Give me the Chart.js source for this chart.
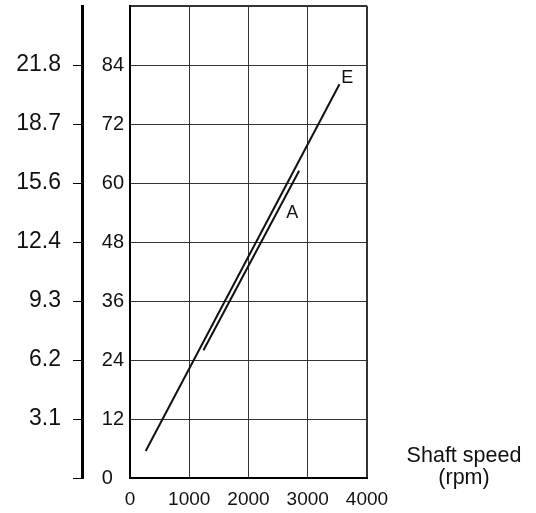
<!DOCTYPE html>
<html lang="en">
<head>
  <meta charset="UTF-8" />
  <title>Power vs shaft speed</title>
  <script src="https://cdn.jsdelivr.net/npm/chart.js"></script>
  <style>
    html, body { margin: 0; padding: 0; background: #fff; }
  </style>
</head>
<body>
  <canvas id="powerChart" width="536" height="513"></canvas>

  <script>
    // values
    const speedTicks = [0, 1000, 2000, 3000, 4000];
    const powerTicks = [0, 12, 24, 36, 48, 60, 72, 84, 96];
    const outerLabels = ['', '3.1', '6.2', '9.3', '12.4', '15.6', '18.7', '21.8', ''];
    const speedE = [265, 3535];
    const powerE = [5.5, 80.1];
    const speedA = [1240, 2855];
    const powerA = [26, 62.5];

    const ink = '#111';
    Chart.defaults.font.family = '"Liberation Sans", Arial, sans-serif';
    Chart.defaults.color = ink;

    function toPoints(xs, ys) {
      return xs.map((x, i) => ({ x: x, y: ys[i] }));
    }

    function setTicks(list) {
      return scale => { scale.ticks = list.map(v => ({ value: v })); };
    }

    // curve names and the axis caption
    const annotate = {
      id: 'annotate',
      afterDraw(chart) {
        const { ctx, chartArea } = chart;
        const x = chart.scales.x, y = chart.scales.y;
        ctx.save();
        ctx.fillStyle = ink;
        ctx.textAlign = 'center';
        ctx.textBaseline = 'alphabetic';
        ctx.font = '18px "Liberation Sans", Arial, sans-serif';
        ctx.fillText('E', x.getPixelForValue(3667), y.getPixelForValue(80.3));
        ctx.fillText('A', x.getPixelForValue(2737), y.getPixelForValue(52.9));
        ctx.font = '21.5px "Liberation Sans", Arial, sans-serif';
        ctx.fillText('Shaft speed', chartArea.right + 97, chartArea.bottom - 16);
        ctx.fillText('(rpm)', chartArea.right + 97, chartArea.bottom + 6);
        ctx.restore();
      }
    };

    new Chart(document.getElementById('powerChart'), {
      type: 'scatter',
      data: {
        datasets: [
          {
            label: 'E',
            data: toPoints(speedE, powerE),
            showLine: true,
            borderColor: ink,
            borderWidth: 2,
            pointRadius: 0,
            yAxisID: 'y'
          },
          {
            label: 'A',
            data: toPoints(speedA, powerA),
            showLine: true,
            borderColor: ink,
            borderWidth: 2,
            pointRadius: 0,
            yAxisID: 'y'
          }
        ]
      },
      options: {
        responsive: false,
        animation: false,
        devicePixelRatio: 1,
        layout: { padding: { top: 6, right: 169, bottom: 0, left: 0 } },
        plugins: { legend: { display: false }, tooltip: { enabled: false } },
        scales: {
          x: {
            type: 'linear',
            min: 0,
            max: 4000,
            afterBuildTicks: setTicks(speedTicks),
            afterFit: s => { s.height = 35; s.paddingLeft = 0; s.paddingRight = 0; },
            ticks: {
              font: { size: 19 },
              padding: 10,
              maxRotation: 0,
              autoSkip: false,
              callback: v => String(v)
            },
            grid: {
              color: '#333',
              lineWidth: c => c.tick && c.tick.value === 4000 ? 2 : 1,
              drawTicks: false
            },
            border: { color: '#000', width: 2 }
          },
          y: {
            type: 'linear',
            position: 'left',
            weight: 0,
            min: 0,
            max: 96,
            afterBuildTicks: setTicks(powerTicks),
            afterFit: s => { s.width = 48; s.paddingTop = 0; s.paddingBottom = 0; },
            ticks: {
              font: { size: 20 },
              padding: 6,
              autoSkip: false,
              callback: v => v === 96 ? '' : (v === 0 ? '0  ' : String(v))
            },
            grid: {
              color: '#333',
              lineWidth: c => c.tick && c.tick.value === 96 ? 2 : 1,
              drawTicks: false
            },
            border: { color: '#000', width: 2 }
          },
          y2: {
            type: 'linear',
            position: 'left',
            weight: 1,
            min: 0,
            max: 96,
            afterBuildTicks: setTicks(powerTicks),
            afterFit: s => { s.width = 82; s.paddingTop = 0; s.paddingBottom = 0; },
            ticks: {
              font: { size: 23 },
              padding: 12,
              autoSkip: false,
              callback: v => outerLabels[powerTicks.indexOf(v)] || ''
            },
            grid: {
              drawOnChartArea: false,
              tickLength: 9,
              lineWidth: 1,
              tickColor: c => c.tick && c.tick.value === 96 ? 'rgba(0,0,0,0)' : '#000'
            },
            border: { color: '#000', width: 3 }
          }
        }
      },
      plugins: [annotate]
    });
  </script>
</body>
</html>
